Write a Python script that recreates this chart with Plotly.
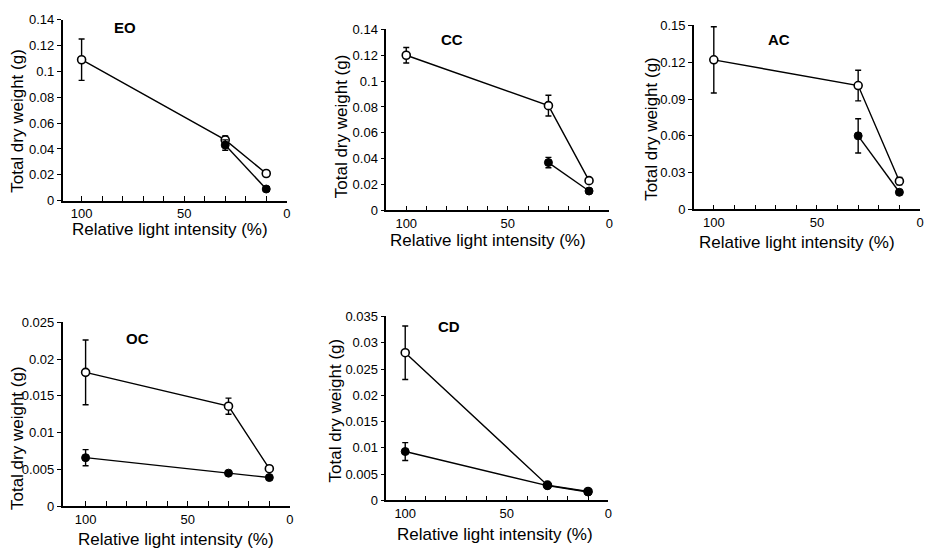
import plotly.graph_objects as go

W, H = 931, 559

# ---------------- data ----------------
eo_open_x = [100, 30, 10]
eo_open_y = [0.109, 0.047, 0.021]
eo_open_err = [0.016, 0.003, 0.0]
eo_fill_x = [30, 10]
eo_fill_y = [0.043, 0.009]
eo_fill_err = [0.004, 0.0]

cc_open_x = [100, 30, 10]
cc_open_y = [0.120, 0.081, 0.023]
cc_open_err = [0.006, 0.008, 0.0]
cc_fill_x = [30, 10]
cc_fill_y = [0.037, 0.015]
cc_fill_err = [0.004, 0.0]

ac_open_x = [100, 30, 10]
ac_open_y = [0.122, 0.101, 0.023]
ac_open_err = [0.027, 0.0125, 0.003]
ac_fill_x = [30, 10]
ac_fill_y = [0.060, 0.014]
ac_fill_err = [0.014, 0.0]

oc_open_x = [100, 30, 10]
oc_open_y = [0.0182, 0.0136, 0.0051]
oc_open_err = [0.0044, 0.0011, 0.0]
oc_fill_x = [100, 30, 10]
oc_fill_y = [0.0066, 0.0045, 0.0039]
oc_fill_err = [0.0011, 0.0, 0.0]

cd_open_x = [100, 30, 10]
cd_open_y = [0.0281, 0.0029, 0.0017]
cd_open_err = [0.0051, 0.0, 0.0]
cd_fill_x = [100, 30, 10]
cd_fill_y = [0.0093, 0.0028, 0.0016]
cd_fill_err = [0.0017, 0.0, 0.0]

eo_yticks = [0, 0.02, 0.04, 0.06, 0.08, 0.1, 0.12, 0.14]
eo_ytext = ["0", "0.02", "0.04", "0.06", "0.08", "0.1", "0.12", "0.14"]
cc_yticks = eo_yticks
cc_ytext = eo_ytext
ac_yticks = [0, 0.03, 0.06, 0.09, 0.12, 0.15]
ac_ytext = ["0", "0.03", "0.06", "0.09", "0.12", "0.15"]
oc_yticks = [0, 0.005, 0.01, 0.015, 0.02, 0.025]
oc_ytext = ["0", "0.005", "0.01", "0.015", "0.02", "0.025"]
cd_yticks = [0, 0.005, 0.01, 0.015, 0.02, 0.025, 0.03, 0.035]
cd_ytext = ["0", "0.005", "0.01", "0.015", "0.02", "0.025", "0.03", "0.035"]

x_ticks = [100, 90, 80, 70, 60, 50, 40, 30, 20, 10, 0]
x_text = ["100", "", "", "", "", "50", "", "", "", "", "0"]

x_title = "Relative light intensity (%)"
y_title = "Total dry weight (g)"

# ---------------- layout geometry (window pixels) ----------------
panels = [
    dict(name="EO", o=(eo_open_x, eo_open_y, eo_open_err), f=(eo_fill_x, eo_fill_y, eo_fill_err),
         yt=eo_yticks, ytx=eo_ytext, xpx=(63, 288), ypx=(13, 199), xl=109.2, ymax=0.14,
         lab=(126, 21), xt=(171, 229), yt_pos=(18, 117)),
    dict(name="CC", o=(cc_open_x, cc_open_y, cc_open_err), f=(cc_fill_x, cc_fill_y, cc_fill_err),
         yt=cc_yticks, ytx=cc_ytext, xpx=(388, 612), ypx=(23, 209), xl=109.8, ymax=0.14,
         lab=(454, 33), xt=(490, 240), yt_pos=(343, 123)),
    dict(name="AC", o=(ac_open_x, ac_open_y, ac_open_err), f=(ac_fill_x, ac_fill_y, ac_fill_err),
         yt=ac_yticks, ytx=ac_ytext, xpx=(697, 924), ypx=(19, 208), xl=109.6, ymax=0.15,
         lab=(782, 33), xt=(800, 242), yt_pos=(654, 125)),
    dict(name="OC", o=(oc_open_x, oc_open_y, oc_open_err), f=(oc_fill_x, oc_fill_y, oc_fill_err),
         yt=oc_yticks, ytx=oc_ytext, xpx=(63, 291), ypx=(324, 513), xl=111.2, ymax=0.025,
         lab=(138, 341), xt=(177, 547), yt_pos=(17, 443)),
    dict(name="CD", o=(cd_open_x, cd_open_y, cd_open_err), f=(cd_fill_x, cd_fill_y, cd_fill_err),
         yt=cd_yticks, ytx=cd_ytext, xpx=(388, 611), ypx=(318, 507), xl=109.3, ymax=0.035,
         lab=(451, 328), xt=(497, 542), yt_pos=(337, 415)),
]


def px(x):
    return x / W


def py(y):
    return 1 - y / H


FONT = "Liberation Sans, Arial, sans-serif"
fig = go.Figure()
layout = dict(
    width=W, height=H, margin=dict(l=0, r=0, t=0, b=0),
    paper_bgcolor="white", plot_bgcolor="white", showlegend=False,
    font=dict(family=FONT, color="black", size=13),
)
annotations = []

for i, p in enumerate(panels, start=1):
    xa = "x" if i == 1 else f"x{i}"
    ya = "y" if i == 1 else f"y{i}"
    ox, oy, oe = p["o"]
    fx, fy, fe = p["f"]
    fig.add_trace(go.Scatter(
        x=ox, y=oy, xaxis=xa, yaxis=ya, mode="lines+markers",
        line=dict(color="black", width=1.4),
        marker=dict(symbol="circle", size=8, color="white", line=dict(color="black", width=1.6)),
        error_y=dict(type="data", array=oe, visible=True, color="black", thickness=1.4, width=3),
        cliponaxis=False,
    ))
    fig.add_trace(go.Scatter(
        x=fx, y=fy, xaxis=xa, yaxis=ya, mode="lines+markers",
        line=dict(color="black", width=1.4),
        marker=dict(symbol="circle", size=8, color="black", line=dict(color="black", width=1)),
        error_y=dict(type="data", array=fe, visible=True, color="black", thickness=1.4, width=3),
        cliponaxis=False,
    ))
    key_x = "xaxis" if i == 1 else f"xaxis{i}"
    key_y = "yaxis" if i == 1 else f"yaxis{i}"
    l, r = p["xpx"]
    t, b = p["ypx"]
    layout[key_x] = dict(
        domain=[px(l), px(r)], anchor=ya, range=[p["xl"], 0],
        showgrid=False, zeroline=False, showline=True, linecolor="black", linewidth=1.6,
        tickvals=x_ticks, ticktext=x_text, ticks="inside", ticklen=5, tickwidth=1.3,
        tickcolor="black", tickfont=dict(size=13, family=FONT, color="black"),
        ticklabeloverflow="allow", fixedrange=True,
    )
    layout[key_y] = dict(
        domain=[py(b), py(t)], anchor=xa, range=[0, p["ymax"]],
        showgrid=False, zeroline=False, showline=True, linecolor="black", linewidth=1.6,
        tickvals=p["yt"], ticktext=p["ytx"], ticks="outside", ticklen=4, tickwidth=1.3,
        tickcolor="black", tickfont=dict(size=13, family=FONT, color="black"),
        fixedrange=True,
    )
    annotations.append(dict(
        text=f"<b>{p['name']}</b>", x=px(p["lab"][0]), y=py(p["lab"][1]),
        xref="paper", yref="paper", showarrow=False, xanchor="center", yanchor="middle",
        font=dict(size=15, family=FONT, color="black"),
    ))
    annotations.append(dict(
        text=x_title, x=px(p["xt"][0]), y=py(p["xt"][1]),
        xref="paper", yref="paper", showarrow=False, xanchor="center", yanchor="middle",
        font=dict(size=17, family=FONT, color="black"),
    ))
    annotations.append(dict(
        text=y_title, x=px(p["yt_pos"][0]), y=py(p["yt_pos"][1]), textangle=-90,
        xref="paper", yref="paper", showarrow=False, xanchor="center", yanchor="middle",
        font=dict(size=17, family=FONT, color="black"),
    ))

layout["annotations"] = annotations
fig.update_layout(**layout)
fig.write_html("out.html", config={"displayModeBar": False},
               post_script="document.body.style.margin='0';")
